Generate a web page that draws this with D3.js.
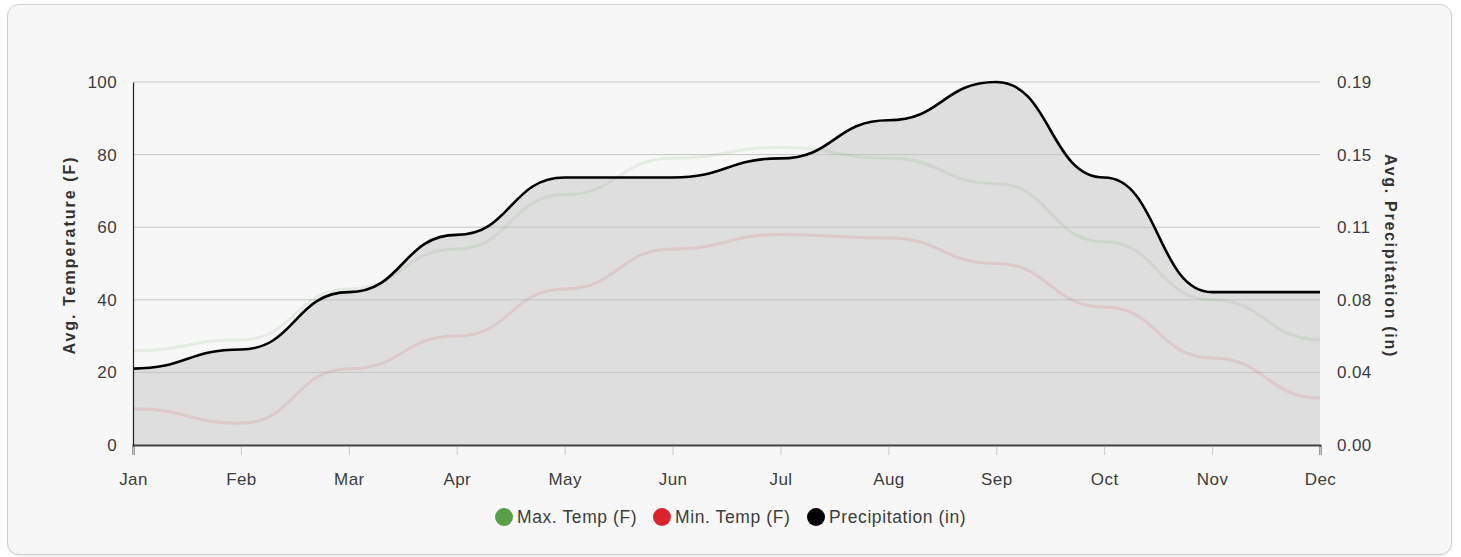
<!DOCTYPE html>
<html>
<head>
<meta charset="utf-8">
<script src="https://cdn.jsdelivr.net/npm/d3@7"></script>
<style>
  html, body { margin: 0; padding: 0; background: #fff; }
  body { font-family: "Liberation Sans", Arial, sans-serif; }
  #card {
    position: absolute; left: 7px; top: 4px; width: 1443px; height: 549px;
    border: 1px solid #cfcfcf; border-radius: 12px; background: #f7f7f7;
    box-shadow: 0 1px 2px rgba(0,0,0,0.08);
  }
  svg { position: absolute; left: 0; top: 0; }
</style>
</head>
<body>
<div id="card"></div>
<div id="chart"></div>
<script>
var months = ["Jan", "Feb", "Mar", "Apr", "May", "Jun", "Jul", "Aug", "Sep", "Oct", "Nov", "Dec"];
var maxTemp = [26, 29, 43, 54, 69, 79, 82, 79, 72, 56, 40, 29];
var minTemp = [10, 6, 21, 30, 43, 54, 58, 57, 50, 38, 24, 13];
var precip = [0.04, 0.05, 0.08, 0.11, 0.14, 0.14, 0.15, 0.17, 0.19, 0.14, 0.08, 0.08];
var tempTicks = [0, 20, 40, 60, 80, 100];

(function () {
    var width = 1461, height = 557;
    var margin = {top: 82, right: 141, bottom: 112, left: 133};
    var w = width - margin.left - margin.right,
        h = height - margin.top - margin.bottom;

    var green = "#5a9e48", red = "#d9232e";
    var font = "'Liberation Sans', Arial, sans-serif";

    var svg = d3.select("#chart").append("svg")
        .attr("width", width)
        .attr("height", height);

    var g = svg.append("g")
        .attr("transform", "translate(" + margin.left + "," + margin.top + ")");

    var x = d3.scalePoint().domain(months).range([0, w]);
    var yT = d3.scaleLinear().domain([0, 100]).range([h, 0]);
    var yP = d3.scaleLinear().domain([0, 0.19]).range([h, 0]);

    // precipitation area
    var area = d3.area()
        .x(function (d, i) { return x(months[i]); })
        .y0(h)
        .y1(function (d) { return yP(d); })
        .curve(d3.curveBumpX);

    g.append("path")
        .datum(precip)
        .attr("d", area)
        .attr("fill", "#dedede");

    // gridlines
    g.append("g").selectAll("line")
        .data(tempTicks)
        .enter().append("line")
        .attr("x1", 0).attr("x2", w)
        .attr("y1", function (d) { return yT(d); })
        .attr("y2", function (d) { return yT(d); })
        .attr("stroke", "#c4c4c4")
        .attr("stroke-width", 1);

    // temperature lines
    var tline = d3.line()
        .x(function (d, i) { return x(months[i]); })
        .y(function (d) { return yT(d); })
        .curve(d3.curveBumpX);

    g.append("path").datum(maxTemp).attr("d", tline)
        .attr("fill", "none").attr("stroke", green)
        .attr("stroke-width", 3).attr("stroke-opacity", 0.11);

    g.append("path").datum(minTemp).attr("d", tline)
        .attr("fill", "none").attr("stroke", red)
        .attr("stroke-width", 3).attr("stroke-opacity", 0.11);

    // precipitation line
    var pline = d3.line()
        .x(function (d, i) { return x(months[i]); })
        .y(function (d) { return yP(d); })
        .curve(d3.curveBumpX);

    g.append("path").datum(precip).attr("d", pline)
        .attr("fill", "none").attr("stroke", "#000")
        .attr("stroke-width", 2.6);

    // axes
    var xAxis = g.append("g")
        .attr("transform", "translate(0," + h + ")")
        .call(d3.axisBottom(x).tickSize(10).tickPadding(18));
    xAxis.select(".domain").attr("stroke", "#444").attr("stroke-width", 2);
    xAxis.selectAll(".tick line").attr("stroke", "#c8c8c8").attr("y1", 2);

    var yAxisL = g.append("g")
        .call(d3.axisLeft(yT).tickValues(tempTicks).tickSize(0).tickPadding(16));
    yAxisL.select(".domain").attr("stroke", "#222").attr("stroke-width", 1.2);

    var yAxisR = g.append("g")
        .attr("transform", "translate(" + w + ",0)")
        .call(d3.axisRight(yP)
            .tickValues(tempTicks.map(function (t) { return t / 100 * 0.19; }))
            .tickFormat(d3.format(".2f"))
            .tickSize(0).tickPadding(17));
    yAxisR.select(".domain").remove();

    svg.selectAll(".tick text")
        .attr("fill", "#3d3d3d")
        .style("font-size", "17px")
        .style("letter-spacing", "0.4px")
        .style("font-family", font);

    // axis titles
    svg.append("text")
        .attr("transform", "translate(69,255) rotate(-90)")
        .attr("text-anchor", "middle").attr("dy", "0.35em")
        .style("font-size", "16px").style("font-weight", "bold")
        .style("letter-spacing", "2px").attr("fill", "#333")
        .text("Avg. Temperature (F)");

    svg.append("text")
        .attr("transform", "translate(1391,256) rotate(90)")
        .attr("text-anchor", "middle").attr("dy", "0.35em")
        .style("font-size", "16px").style("font-weight", "bold")
        .style("letter-spacing", "1.7px").attr("fill", "#333")
        .text("Avg. Precipitation (in)");

    // legend
    var legendItems = [
        {name: "Max. Temp (F)", color: green, x: 504},
        {name: "Min. Temp (F)", color: red, x: 662},
        {name: "Precipitation (in)", color: "#000", x: 816}
    ];
    var lg = svg.selectAll(".legend")
        .data(legendItems)
        .enter().append("g")
        .attr("class", "legend")
        .attr("transform", function (d) { return "translate(" + d.x + ",517)"; });
    lg.append("circle").attr("r", 9).attr("fill", function (d) { return d.color; });
    lg.append("text")
        .attr("x", 13).attr("dy", "0.35em")
        .style("font-size", "17.5px").style("letter-spacing", "0.6px")
        .attr("fill", "#3d3d3d")
        .text(function (d) { return d.name; });
})();
</script>
</body>
</html>
